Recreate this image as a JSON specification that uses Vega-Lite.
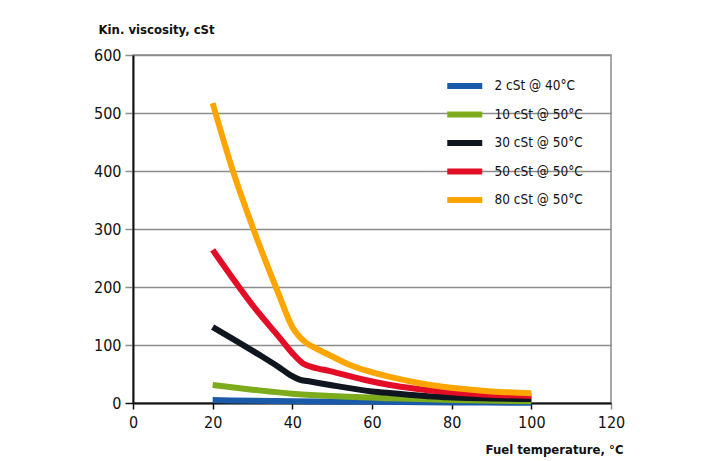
{
  "$schema": "https://vega.github.io/schema/vega-lite/v6.json",
  "autosize": {"type": "none"},
  "width": 478,
  "height": 348,
  "padding": {"left": 133, "top": 55, "right": 99, "bottom": 58},
  "background": "white",
  "config": {
    "font": "DejaVu Sans Condensed",
    "view": {"stroke": "#8c8c8c", "strokeWidth": 1.5}
  },
  "data": {
    "values": [
      {"s": "2 cSt @ 40°C", "t": 20, "v": 5},
      {"s": "2 cSt @ 40°C", "t": 40, "v": 3},
      {"s": "2 cSt @ 40°C", "t": 60, "v": 2},
      {"s": "2 cSt @ 40°C", "t": 80, "v": 1},
      {"s": "2 cSt @ 40°C", "t": 100, "v": 0.5},
      {"s": "10 cSt @ 50°C", "t": 20, "v": 31},
      {"s": "10 cSt @ 50°C", "t": 30, "v": 23},
      {"s": "10 cSt @ 50°C", "t": 40, "v": 16},
      {"s": "10 cSt @ 50°C", "t": 50, "v": 12},
      {"s": "10 cSt @ 50°C", "t": 65, "v": 8},
      {"s": "10 cSt @ 50°C", "t": 80, "v": 5},
      {"s": "10 cSt @ 50°C", "t": 100, "v": 3},
      {"s": "30 cSt @ 50°C", "t": 20, "v": 131},
      {"s": "30 cSt @ 50°C", "t": 31, "v": 86},
      {"s": "30 cSt @ 50°C", "t": 37, "v": 60},
      {"s": "30 cSt @ 50°C", "t": 39.5, "v": 48},
      {"s": "30 cSt @ 50°C", "t": 42, "v": 40},
      {"s": "30 cSt @ 50°C", "t": 44.5, "v": 37},
      {"s": "30 cSt @ 50°C", "t": 49.5, "v": 31},
      {"s": "30 cSt @ 50°C", "t": 60, "v": 20},
      {"s": "30 cSt @ 50°C", "t": 65, "v": 17},
      {"s": "30 cSt @ 50°C", "t": 79, "v": 10},
      {"s": "30 cSt @ 50°C", "t": 100, "v": 7},
      {"s": "50 cSt @ 50°C", "t": 20, "v": 264},
      {"s": "50 cSt @ 50°C", "t": 31, "v": 160},
      {"s": "50 cSt @ 50°C", "t": 37, "v": 111},
      {"s": "50 cSt @ 50°C", "t": 40, "v": 86},
      {"s": "50 cSt @ 50°C", "t": 42.7, "v": 68},
      {"s": "50 cSt @ 50°C", "t": 45, "v": 62},
      {"s": "50 cSt @ 50°C", "t": 49.5, "v": 55},
      {"s": "50 cSt @ 50°C", "t": 58, "v": 40},
      {"s": "50 cSt @ 50°C", "t": 64.5, "v": 31},
      {"s": "50 cSt @ 50°C", "t": 70.5, "v": 25},
      {"s": "50 cSt @ 50°C", "t": 83, "v": 17},
      {"s": "50 cSt @ 50°C", "t": 100, "v": 12},
      {"s": "80 cSt @ 50°C", "t": 20, "v": 517},
      {"s": "80 cSt @ 50°C", "t": 25, "v": 402},
      {"s": "80 cSt @ 50°C", "t": 30, "v": 304},
      {"s": "80 cSt @ 50°C", "t": 36.5, "v": 189},
      {"s": "80 cSt @ 50°C", "t": 40, "v": 131},
      {"s": "80 cSt @ 50°C", "t": 43.6, "v": 103},
      {"s": "80 cSt @ 50°C", "t": 46, "v": 94},
      {"s": "80 cSt @ 50°C", "t": 49.5, "v": 82},
      {"s": "80 cSt @ 50°C", "t": 54, "v": 67},
      {"s": "80 cSt @ 50°C", "t": 58, "v": 57},
      {"s": "80 cSt @ 50°C", "t": 64.5, "v": 45},
      {"s": "80 cSt @ 50°C", "t": 72, "v": 34},
      {"s": "80 cSt @ 50°C", "t": 83, "v": 24},
      {"s": "80 cSt @ 50°C", "t": 90, "v": 20},
      {"s": "80 cSt @ 50°C", "t": 100, "v": 17}
    ]
  },
  "mark": {"type": "line", "strokeWidth": 6, "interpolate": "monotone", "clip": false},
  "encoding": {
    "x": {
      "field": "t", "type": "quantitative",
      "scale": {"domain": [0, 120], "nice": false, "zero": false},
      "axis": {
        "values": [0, 20, 40, 60, 80, 100, 120],
        "title": "Fuel temperature, °C",
        "titleFont": "DejaVu Sans Condensed",
        "titleFontWeight": "bold",
        "titleFontSize": 13,
        "titleColor": "#111",
        "titleAlign": "right",
        "titleAnchor": null,
        "titleBaseline": "alphabetic",
        "titleX": 490,
        "titleY": 50,
        "grid": false,
        "domainColor": "#111",
        "domainWidth": 2,
        "tickColor": {"condition": {"test": "datum.value === 120", "value": "#8c8c8c"}, "value": "#111"},
        "tickWidth": 1.5,
        "tickSize": 6,
        "labelFontSize": 16,
        "labelColor": "#111",
        "labelPadding": 5,
        "labelFlush": false
      }
    },
    "y": {
      "field": "v", "type": "quantitative",
      "scale": {"domain": [0, 600], "nice": false},
      "axis": {
        "values": [0, 100, 200, 300, 400, 500, 600],
        "title": "Kin. viscosity, cSt",
        "titleFont": "DejaVu Sans Condensed",
        "titleFontWeight": "bold",
        "titleFontSize": 13,
        "titleColor": "#111",
        "titleAngle": 0,
        "titleAlign": "left",
        "titleAnchor": null,
        "titleBaseline": "alphabetic",
        "titleX": -35,
        "titleY": -22,
        "grid": true,
        "gridColor": "#8c8c8c",
        "gridWidth": 1.5,
        "gridOpacity": 1,
        "domainColor": "#111",
        "domainWidth": 2,
        "tickColor": {"condition": {"test": "datum.value === 0", "value": "#111"}, "value": "#8c8c8c"},
        "tickWidth": 1.5,
        "tickSize": 8,
        "labelFontSize": 16,
        "labelColor": "#111",
        "labelPadding": 4,
        "labelFlush": false
      }
    },
    "color": {
      "field": "s", "type": "nominal",
      "scale": {
        "domain": ["2 cSt @ 40°C", "10 cSt @ 50°C", "30 cSt @ 50°C", "50 cSt @ 50°C", "80 cSt @ 50°C"],
        "range": ["#1a5aa8", "#7cab1c", "#0f1620", "#e30d28", "#ffa500"]
      },
      "legend": {
        "title": null,
        "orient": "none",
        "legendX": 319.75,
        "legendY": 19,
        "symbolType": "M-2,0H2",
        "symbolSize": 306,
        "symbolStrokeWidth": 6,
        "labelFontSize": 13.5,
        "labelColor": "#111",
        "labelOffset": 17.75,
        "rowPadding": 4.5,
        "labelLimit": 200
      }
    }
  }
}
